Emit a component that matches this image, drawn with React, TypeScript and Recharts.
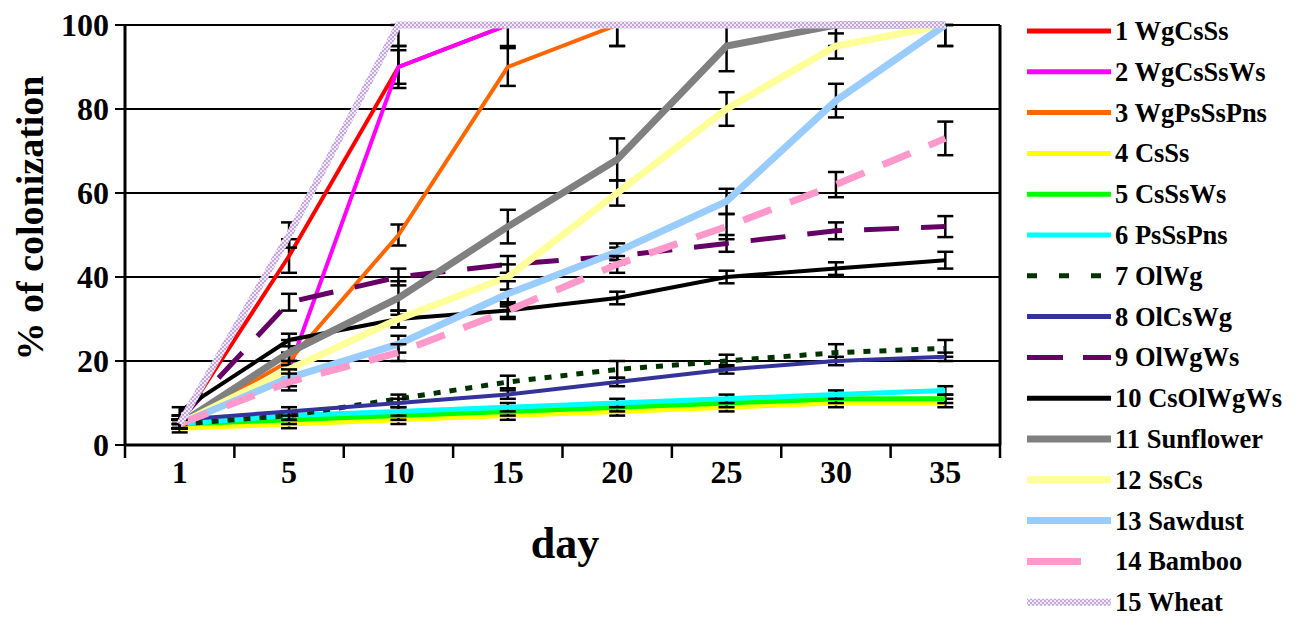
import React from 'react';
import { LineChart, Line, XAxis, YAxis, CartesianGrid, ErrorBar } from 'recharts';

type Err = number | [number, number];

const days = ['1', '5', '10', '15', '20', '25', '30', '35'];
const yTicks = [0, 20, 40, 60, 80, 100];

const names = [
  '1 WgCsSs', '2 WgCsSsWs', '3 WgPsSsPns', '4 CsSs', '5 CsSsWs', '6 PsSsPns', '7 OlWg',
  '8 OlCsWg', '9 OlWgWs', '10 CsOlWgWs', '11 Sunflower', '12 SsCs', '13 Sawdust',
  '14 Bamboo', '15 Wheat',
];

const wgCsSs = [5, 45, 90, 100, 100, 100, 100, 100];
const wgCsSsWs = [5, 18, 90, 100, 100, 100, 100, 100];
const wgPsSsPns = [5, 20, 50, 90, 100, 100, 100, 100];
const csSs = [4, 5, 6, 7, 8, 9, 10, 10];
const csSsWs = [5, 6, 7, 8, 9, 10, 11, 11];
const psSsPns = [5, 7, 8, 9, 10, 11, 12, 13];
const olWg = [5, 7, 11, 15, 18, 20, 22, 23];
const olCsWg = [6, 8, 10, 12, 15, 18, 20, 21];
const olWgWs = [6, 34, 40, 43, 45, 48, 51, 52];
const csOlWgWs = [8, 25, 30, 32, 35, 40, 42, 44];
const sunflower = [5, 22, 35, 52, 68, 95, 100, 100];
const ssCs = [5, 18, 30, 40, 60, 80, 95, 100];
const sawdust = [5, 16, 24, 36, 46, 58, 82, 100];
const bamboo = [5, 15, 22, 32, 43, 52, 62, 73];
const wheat = [5, 50, 100, 100, 100, 100, 100, 100];

// error bars: single number = symmetric, [lower, upper] otherwise
const errWgCsSs: Err[] = [1, 4, 4, 0, 0, 0, 0, 0];
const errWgCsSsWs: Err[] = [1, 2, 5, 0, 0, 0, 0, 0];
const errWgPsSsPns: Err[] = [1, 2, 2.5, 4.5, [5, 0], 0, 0, 0];
const errCsSs: Err[] = [1, 1, 1, 1, 1, 1, 1, 1];
const errCsSsWs: Err[] = [1, 1, 1, 1, 1, 1, 1, 1];
const errPsSsPns: Err[] = [1, 1, 1, 1, 1, 1, 1, 1];
const errOlWg: Err[] = [1, 1, 1, 1.5, 2, 1.5, 2, 2];
const errOlCsWg: Err[] = [1, 1, 1, 1, 1, 1, 1, 1];
const errOlWgWs: Err[] = [1, 2, 2, 2, 2, 2, 2, 2.5];
const errCsOlWgWs: Err[] = [1, 1.5, 2, 1.5, 1.5, 1.5, 1.5, 2];
const errSunflower: Err[] = [1, 3, 4, 4, 5, [6, 5], [5, 0], 0];
const errSsCs: Err[] = [1, 2, 2, 3, 3, 4, 3, [5, 0]];
const errSawdust: Err[] = [1, 2, 2, 3, 2, 3, 4, [5, 0]];
const errBamboo: Err[] = [1, 2, 2, 2, 2, 3, 3, 4];
const errWheat: Err[] = [1, 3, [5, 0], [5, 0], [5, 0], 0, 0, 0];

const FONT = '"Liberation Serif", "Times New Roman", serif';

const series = [
  { values: wgCsSs, errors: errWgCsSs, color: '#FF0000', width: 4 },
  { values: wgCsSsWs, errors: errWgCsSsWs, color: '#FF00FF', width: 4 },
  { values: wgPsSsPns, errors: errWgPsSsPns, color: '#FF6600', width: 4 },
  { values: csSs, errors: errCsSs, color: '#FFFF00', width: 5 },
  { values: csSsWs, errors: errCsSsWs, color: '#00FF00', width: 5 },
  { values: psSsPns, errors: errPsSsPns, color: '#00FFFF', width: 5 },
  { values: olWg, errors: errOlWg, color: '#003300', width: 5, dash: '7 9', legendDash: '10 22' },
  { values: olCsWg, errors: errOlCsWg, color: '#333399', width: 4 },
  { values: olWgWs, errors: errOlWgWs, color: '#660066', width: 5, dash: '35 22', legendDash: '36 20' },
  { values: csOlWgWs, errors: errCsOlWgWs, color: '#000000', width: 4 },
  { values: sunflower, errors: errSunflower, color: '#808080', width: 7 },
  { values: ssCs, errors: errSsCs, color: '#FFFF99', width: 7 },
  { values: sawdust, errors: errSawdust, color: '#99CCFF', width: 7 },
  { values: bamboo, errors: errBamboo, color: '#FF99CC', width: 7, dash: '30 20', legendDash: '54 100' },
  { values: wheat, errors: errWheat, color: 'url(#wheatPattern)', width: 7 },
];

const data = days.map((day, i) => {
  const row: Record<string, any> = { day };
  series.forEach((s, k) => {
    row[`s${k}`] = s.values[i];
    row[`e${k}`] = s.errors[i];
  });
  return row;
});

const PLOT_W = 875;

const DayTick = (props: any) => {
  const { x, y, payload, index } = props;
  const bw = PLOT_W / days.length;
  return (
    <g>
      <line x1={x - bw / 2} x2={x - bw / 2} y1={y} y2={y + 13} stroke="#000" strokeWidth={2.5} />
      {index === days.length - 1 && (
        <line x1={x + bw / 2} x2={x + bw / 2} y1={y} y2={y + 13} stroke="#000" strokeWidth={2.5} />
      )}
      <text x={x} y={y + 38} textAnchor="middle" fontSize={32} fontWeight="bold" fontFamily={FONT} fill="#000">
        {payload.value}
      </text>
    </g>
  );
};

export default function App() {
  return (
    <div style={{ position: 'absolute', left: 0, top: 0, width: 1298, height: 617, background: '#fff' }}>
      <LineChart width={1298} height={617} data={data} margin={{ top: 25, right: 297, left: 50, bottom: 62 }}>
        <CartesianGrid vertical={false} stroke="#000" strokeWidth={2} />
        <XAxis
          dataKey="day"
          scale="band"
          height={110}
          tickLine={false}
          tickSize={0}
          tickMargin={0}
          axisLine={{ stroke: '#000', strokeWidth: 3 }}
          tick={<DayTick />}
          interval={0}
        />
        <YAxis
          domain={[0, 100]}
          ticks={yTicks}
          width={75}
          tickSize={10}
          tickMargin={6}
          axisLine={{ stroke: '#000', strokeWidth: 3 }}
          tickLine={{ stroke: '#000', strokeWidth: 2 }}
          tick={{ fontSize: 32, fontWeight: 'bold', fill: '#000', fontFamily: FONT }}
        />
        <YAxis
          yAxisId="r"
          orientation="right"
          domain={[0, 100]}
          width={1}
          tick={false}
          tickLine={false}
          axisLine={{ stroke: '#000', strokeWidth: 3 }}
        />
        {series.map((s, k) => (
          <Line
            key={k}
            type="linear"
            dataKey={`s${k}`}
            stroke={s.color}
            strokeWidth={s.width}
            strokeDasharray={s.dash}
            dot={false}
            activeDot={false}
            isAnimationActive={false}
          >
            <ErrorBar dataKey={`e${k}`} stroke="#000" strokeWidth={2.5} width={8} isAnimationActive={false} />
          </Line>
        ))}
      </LineChart>

      <svg width={1298} height={617} style={{ position: 'absolute', left: 0, top: 0, pointerEvents: 'none' }}>
        <defs>
          <pattern id="wheatPattern" patternUnits="userSpaceOnUse" width={4} height={4}>
            <rect width={4} height={4} fill="#f1e8f8" />
            <rect width={2} height={2} fill="#c4a6e0" />
            <rect x={2} y={2} width={2} height={2} fill="#c4a6e0" />
          </pattern>
        </defs>
        <text
          transform="translate(43,218) rotate(-90)"
          textAnchor="middle"
          fontSize={38}
          fontWeight="bold"
          fontFamily={FONT}
          fill="#000"
        >
          % of colonization
        </text>
        <text x={565} y={558} textAnchor="middle" fontSize={44} fontWeight="bold" fontFamily={FONT} fill="#000">
          day
        </text>
        {series.map((s, k) => {
          const cy = 31 + k * 40.8;
          return (
            <g key={k}>
              <line
                x1={1027}
                x2={1111}
                y1={cy}
                y2={cy}
                stroke={s.color}
                strokeWidth={s.width > 5 ? 7 : 5}
                strokeDasharray={s.legendDash}
              />
              <text x={1115} y={cy + 9} fontSize={26.5} fontWeight="bold" fontFamily={FONT} fill="#000">
                {names[k]}
              </text>
            </g>
          );
        })}
      </svg>
    </div>
  );
}
